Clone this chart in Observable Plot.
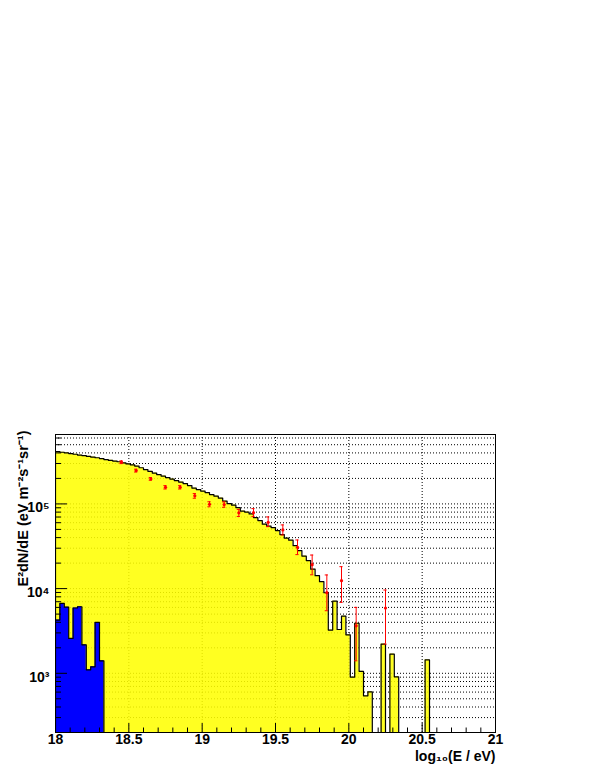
<!DOCTYPE html>
<html><head><meta charset="utf-8">
<script src="https://cdn.jsdelivr.net/npm/d3@7"></script>
<script src="https://cdn.jsdelivr.net/npm/@observablehq/plot@0.6"></script>
<style>body{margin:0;background:#fff} svg{display:block}</style>
</head><body><div id="chart"></div>
<script>
// ---- data ----
const binStart = 18, binWidth = 0.03;           // histogram binning in log10(E/eV)
const yellowCounts = [
  415000, 407400, 400900, 393200, 385800, 377500, 372400, 364400, 357500, 350800,
  343300, 334000, 326800, 320600, 314600, 305300, 297100, 289100, 279800, 267200,
  254400, 242200, 231300, 222000, 213100, 204600, 196400, 188600, 181000, 173800,
  164600, 153800, 147600, 141700, 136000, 128800, 123700, 117100, 108000, 100800,
  96800, 90400, 82200, 80000, 76200, 68900, 63500, 57700, 54600, 52500,
  48400, 43400, 39400, 37300, 32100, 28100, 24200, 21400, 16960, 14210,
  12070, 8940, 3240, 7100, 3290, 4720, 2850, 902, 3900, 1056,
  542, 604, 0, 0, 2214, 0, 1687, 909, 0, 0,
  0, 0, 0, 0, 1444, 0, 0, 0, 0, 0,
  0, 0, 0, 0, 0, 0, 0, 0, 0, 0
];
const blueCounts = [4255, 6680, 6030, 2580, 5900, 6110, 2170, 1100, 1194, 3985, 1405];
const pointE  = [18.45, 18.55, 18.65, 18.75, 18.85, 18.95, 19.05, 19.15, 19.25, 19.35, 19.45, 19.55, 19.65, 19.75, 19.85, 19.95, 20.05, 20.25];
const pointV  = [310600, 247700, 197400, 157000, 157000, 124500, 98900, 98100, 78400, 78900, 60600, 49300, 30700, 19170, 8950, 12390, 3640, 5900];
const pointLo = [299000, 238000, 190500, 150000, 150000, 116700, 92500, 91200, 71100, 70800, 53900, 43000, 25200, 14560, 5480, 6870, 1405, 2210];
const pointHi = [322000, 257000, 204600, 164400, 164400, 132400, 106000, 105700, 86100, 88000, 70200, 56500, 37500, 24900, 14490, 18150, 6000, 9620];
const xTickLabels = [18, 18.5, 19, 19.5, 20, 20.5, 21];
const yDecades = [1e3, 1e4, 1e5];
const supers = {"3": "³", "4": "⁴", "5": "⁵"};
const yTitle = "E²dN/dE (eV m⁻²s⁻¹sr⁻¹)";
const xTitle = "log₁₀(E / eV)";
const yMin = 200, yMax = 6.6e5, xMin = 18, xMax = 21;

// ---- derived structures ----
function stepPoints(counts) {
  const pts = [{x: binStart, y: yMin}];
  counts.forEach((c, i) => {
    const v = c > 0 ? c : yMin;
    pts.push({x: binStart + i * binWidth, y: v}, {x: binStart + (i + 1) * binWidth, y: v});
  });
  pts.push({x: binStart + counts.length * binWidth, y: yMin});
  return pts;
}
const yellowPts = stepPoints(yellowCounts);
const bluePts = stepPoints(blueCounts);
const points = pointE.map((e, i) => ({e, v: pointV[i], lo: pointLo[i], hi: pointHi[i]}));

const yGrid = [];
for (let d = 100; d <= 1e6; d *= 10) for (let m = 1; m <= 9; m++) {
  const v = m * d; if (v > yMin && v < yMax) yGrid.push(v);
}
const yMinor = yGrid.filter(v => !yDecades.includes(v));
const xMajorInner = xTickLabels.filter(v => v > xMin && v < xMax);
const xMinor = d3.range(181, 210).map(v => v / 10).filter(v => !xTickLabels.includes(v));

const W = 595, H = 770, mL = 55, mR = 100, mT = 434, mB = 38;
const innerW = W - mL - mR, innerH = H - mT - mB;
const cap = 0.011;
const font = "'Liberation Sans', Arial, Helvetica, sans-serif";

const chart = Plot.plot({
  width: W, height: H,
  marginLeft: mL, marginRight: mR, marginTop: mT, marginBottom: mB,
  style: {fontFamily: font, fontWeight: "bold", fontSize: "14px", background: "white", color: "black"},
  x: {domain: [xMin, xMax]},
  y: {type: "log", domain: [yMin, yMax]},
  marks: [
    Plot.ruleY(yGrid, {y: d => d, stroke: "#000", strokeDasharray: "1,2", strokeWidth: 1}),
    Plot.ruleX(xMajorInner, {x: d => d, stroke: "#000", strokeDasharray: "1,2", strokeWidth: 1}),
    Plot.areaY(yellowPts, {x: "x", y1: yMin, y2: "y", fill: "#ffff00", fillOpacity: 0.87, clip: true}),
    Plot.line(yellowPts, {x: "x", y: "y", stroke: "#000", strokeWidth: 1.2, clip: true}),
    Plot.areaY(bluePts, {x: "x", y1: yMin, y2: "y", fill: "#0000ff", clip: true}),
    Plot.line(bluePts, {x: "x", y: "y", stroke: "#000", strokeWidth: 1.2, clip: true}),
    Plot.ruleX(points, {x: "e", y1: "lo", y2: "hi", stroke: "#ff0000", strokeWidth: 1}),
    Plot.ruleY(points, {y: "lo", x1: d => d.e - cap, x2: d => d.e + cap, stroke: "#ff0000"}),
    Plot.ruleY(points, {y: "hi", x1: d => d.e - cap, x2: d => d.e + cap, stroke: "#ff0000"}),
    Plot.dot(points, {x: "e", y: "v", r: 1.6, fill: "#ff0000", stroke: "none"}),
    Plot.tickX(xMajorInner, {x: d => d, insetTop: innerH - 9, stroke: "#000"}),
    Plot.tickX(xMinor, {x: d => d, insetTop: innerH - 4.5, stroke: "#000"}),
    Plot.tickY(yDecades, {y: d => d, insetRight: innerW - 12, stroke: "#000"}),
    Plot.tickY(yMinor, {y: d => d, insetRight: innerW - 6, stroke: "#000"}),
    Plot.axisX({ticks: xTickLabels, tickSize: 0, tickPadding: 2, tickFormat: d => String(d), label: null, fontSize: 14, fontWeight: "bold"}),
    Plot.axisY({ticks: yDecades, tickSize: 0, tickPadding: 6, dy: 4, tickFormat: d => "10" + supers[String(Math.round(Math.log10(d)))], label: null, fontSize: 14, fontWeight: "bold"}),
    Plot.frame({stroke: "#000", strokeWidth: 1}),
    Plot.text([yTitle], {frameAnchor: "top-left", rotate: -90, textAnchor: "end", lineAnchor: "bottom", dx: -28, dy: -4, fontSize: 14.5, fontWeight: "bold"}),
    Plot.text([xTitle], {frameAnchor: "bottom-right", textAnchor: "end", dy: 28, fontSize: 14, fontWeight: "bold"})
  ]
});
document.getElementById("chart").appendChild(chart);
</script>
</body></html>
